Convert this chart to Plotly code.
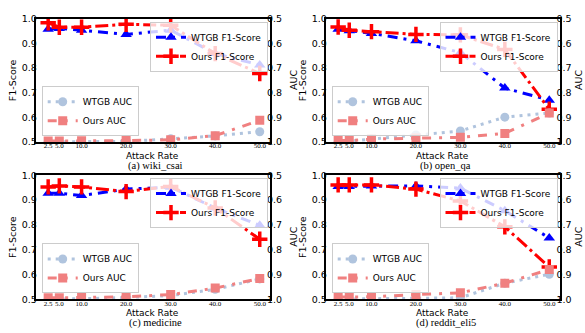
import plotly.graph_objects as go

rates = [2.5, 5, 10, 20, 30, 40, 50]
rate_labels = ["2.5", "5.0", "10.0", "20.0", "30.0", "40.0", "50.0"]
y_ticks = [0.5, 0.6, 0.7, 0.8, 0.9, 1.0]
y_tick_labels = ["0.5", "0.6", "0.7", "0.8", "0.9", "1.0"]

captions = ["(a) wiki_csai", "(b) open_qa", "(c) medicine", "(d) reddit_eli5"]

wtgb_f1_a = [0.958, 0.961, 0.954, 0.937, 0.954, 0.859, 0.813]
ours_f1_a = [0.984, 0.966, 0.966, 0.978, 0.974, 0.859, 0.778]
wtgb_auc_a = [0.999, 0.999, 0.998, 0.997, 0.987, 0.975, 0.958]
ours_auc_a = [0.996, 0.996, 0.995, 0.994, 0.991, 0.974, 0.912]

wtgb_f1_b = [0.958, 0.952, 0.941, 0.911, 0.863, 0.719, 0.670]
ours_f1_b = [0.967, 0.954, 0.948, 0.937, 0.935, 0.876, 0.633]
wtgb_auc_b = [0.999, 0.997, 0.988, 0.971, 0.955, 0.899, 0.882]
ours_auc_b = [0.994, 0.994, 0.988, 0.984, 0.981, 0.965, 0.882]

wtgb_f1_c = [0.927, 0.927, 0.918, 0.944, 0.952, 0.868, 0.798]
ours_f1_c = [0.953, 0.957, 0.953, 0.934, 0.955, 0.868, 0.742]
wtgb_auc_c = [0.999, 0.999, 0.998, 0.993, 0.985, 0.960, 0.918]
ours_auc_c = [0.994, 0.994, 0.993, 0.990, 0.981, 0.955, 0.916]

wtgb_f1_d = [0.955, 0.955, 0.957, 0.957, 0.948, 0.857, 0.747]
ours_f1_d = [0.961, 0.961, 0.961, 0.944, 0.896, 0.792, 0.630]
wtgb_auc_d = [0.999, 0.999, 0.998, 0.996, 0.994, 0.935, 0.899]
ours_auc_d = [0.991, 0.991, 0.990, 0.981, 0.974, 0.935, 0.880]

panels = [
    (wtgb_f1_a, ours_f1_a, wtgb_auc_a, ours_auc_a),
    (wtgb_f1_b, ours_f1_b, wtgb_auc_b, ours_auc_b),
    (wtgb_f1_c, ours_f1_c, wtgb_auc_c, ours_auc_c),
    (wtgb_f1_d, ours_f1_d, wtgb_auc_d, ours_auc_d),
]

W, H = 585, 333
# pixel boxes of plot areas: (left, right, top, bottom)
boxes = [
    (35.7, 270.0, 13.3, 140.7),
    (325.7, 559.5, 13.3, 140.7),
    (35.7, 270.0, 175.0, 303.3),
    (325.7, 559.5, 175.0, 303.3),
]
# offset of the right-hand "AUC" title from the plot edge
auc_title_offsets = [23.5, 19.0, 23.5, 19.0]

SANS = "DejaVu Sans"
SERIF = "Liberation Serif"

fig = go.Figure()
layout = dict(
    width=W, height=H, margin=dict(l=0, r=0, t=0, b=0),
    paper_bgcolor="white", plot_bgcolor="white", showlegend=True,
    font=dict(family=SANS, size=9.5, color="black"),
)
annotations = []


def px(x):
    return x / W


def py(y):
    return 1 - y / H


def label(text, x, y, size, family=SANS, angle=0):
    return dict(text=text, x=px(x), y=py(y), xref="paper", yref="paper",
                xanchor="center", yanchor="middle", showarrow=False,
                textangle=angle, font=dict(family=family, size=size, color="black"))


for i, (wf1, of1, wauc, oauc) in enumerate(panels):
    xid = "x" if i == 0 else f"x{i+1}"
    yl = 2 * i + 1
    yr = 2 * i + 2
    ylid = "y" if yl == 1 else f"y{yl}"
    yrid = f"y{yr}"
    leg_top = "legend" if i == 0 else f"legend{2*i+1}"
    leg_bot = f"legend{2*i+2}"
    l, r, t, b = boxes[i]

    fig.add_trace(go.Scatter(
        x=rates, y=wf1, name="WTGB F1-Score", xaxis=xid, yaxis=ylid, legend=leg_top,
        mode="lines+markers",
        line=dict(color="#0000ff", width=3, dash="10px,6px,3px,6px"),
        marker=dict(symbol="triangle-up", size=10, color="#0000ff"),
    ))
    fig.add_trace(go.Scatter(
        x=rates, y=of1, name="Ours F1-Score", xaxis=xid, yaxis=ylid, legend=leg_top,
        mode="lines+markers",
        line=dict(color="#ff0000", width=3, dash="13px,4px,3px,4px"),
        marker=dict(symbol="cross-thin", size=11, color="#ff0000",
                    line=dict(color="#ff0000", width=3.5)),
    ))
    fig.add_trace(go.Scatter(
        x=rates, y=wauc, name="WTGB AUC", xaxis=xid, yaxis=yrid, legend=leg_bot,
        mode="lines+markers",
        line=dict(color="#b0c4de", width=3, dash="3px,5px"),
        marker=dict(symbol="circle", size=9, color="#b0c4de"),
    ))
    fig.add_trace(go.Scatter(
        x=rates, y=oauc, name="Ours AUC", xaxis=xid, yaxis=yrid, legend=leg_bot,
        mode="lines+markers",
        line=dict(color="#f08080", width=3, dash="9px,8px,3px,8px"),
        marker=dict(symbol="square", size=9, color="#f08080"),
    ))

    xkey = "xaxis" if i == 0 else f"xaxis{i+1}"
    ylkey = "yaxis" if yl == 1 else f"yaxis{yl}"
    yrkey = f"yaxis{yr}"
    layout[xkey] = dict(
        domain=[px(l), px(r)], anchor=ylid, range=[-0.3, 52.3],
        tickmode="array", tickvals=rates, ticktext=rate_labels, tickangle=0,
        tickfont=dict(family=SERIF, size=7, color="black"), ticklabelstandoff=-4,
        showline=True, mirror=True, linecolor="black", linewidth=2,
        showgrid=False, zeroline=False, ticks="",
    )
    layout[ylkey] = dict(
        domain=[py(b), py(t)], anchor=xid, range=[0.5, 1.0],
        tickmode="array", tickvals=y_ticks, ticktext=y_tick_labels,
        tickfont=dict(family=SANS, size=9.5, color="black"), ticklabelstandoff=-5,
        showline=True, mirror=True, linecolor="black", linewidth=2,
        showgrid=False, zeroline=False, ticks="",
    )
    layout[yrkey] = dict(
        overlaying=ylid, side="right", anchor=xid, range=[1.0, 0.5],
        tickmode="array", tickvals=y_ticks, ticktext=y_tick_labels,
        tickfont=dict(family=SANS, size=9.5, color="black"), ticklabelstandoff=-4,
        showline=False, showgrid=False, zeroline=False, ticks="",
    )
    legstyle = dict(
        bgcolor="rgba(255,255,255,0.8)", bordercolor="#cccccc", borderwidth=1,
        font=dict(family=SANS, size=9, color="black"), itemwidth=30,
        tracegroupgap=0,
    )
    layout[leg_top] = dict(x=px(r - 2), y=py(t + 3), xanchor="right", yanchor="top", **legstyle)
    layout[leg_bot] = dict(x=px(l + 6), y=py(b - 6), xanchor="left", yanchor="bottom", **legstyle)

    cx = (l + r) / 2
    cy = (t + b) / 2
    annotations.append(label("F1-Score", l - 23, cy, 9.5, angle=-90))
    annotations.append(label("AUC", r + auc_title_offsets[i], cy, 9.5, angle=-90))
    annotations.append(label("Attack Rate", cx, b + 14.3, 9))
    annotations.append(label(captions[i], cx + 3, b + 25, 10.5, family=SERIF))

layout["annotations"] = annotations
fig.update_layout(**layout)
fig.write_html("out.html")
